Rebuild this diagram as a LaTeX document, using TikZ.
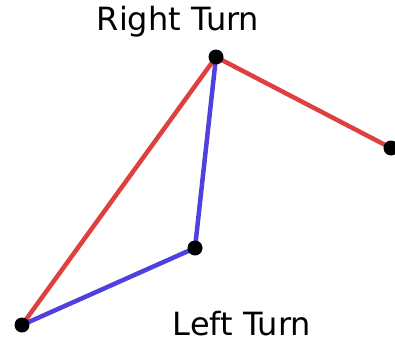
\documentclass[tikz,border=0pt]{standalone}
\usepackage{fontspec}
\setmainfont{DejaVu Sans}
\definecolor{Turnred}{RGB}{222,64,64}
\definecolor{Turnblue}{RGB}{80,64,222}
\usetikzlibrary{positioning}

\begin{document}
\begin{tikzpicture}[
  x=1pt, y=-1pt,
  pt/.style={circle, fill=black, inner sep=0pt, minimum size=15pt},
  redseg/.style={Turnred, line width=4.5pt},
  blueseg/.style={Turnblue, line width=4.5pt},
  lbl/.style={font=\fontsize{32}{36}\selectfont, inner sep=0pt}
]
\useasboundingbox (0,0) rectangle (395,345);

%% ── Puntos ────────────────────────────────────────────────────────────────
\coordinate (a) at (22,325);
\coordinate (b) at (195,248);
\coordinate (c) at (216,57);
\coordinate (d) at (391,148);

%% ── Segmentos ─────────────────────────────────────────────────────────────
\draw[redseg]  (a) -- (c) -- (d);
\draw[blueseg] (a) -- (b) -- (c);

\node[pt] (pa) at (a) {};
\node[pt] (pb) at (b) {};
\node[pt] (pc) at (c) {};
\node[pt] (pd) at (d) {};

%% ── Etiquetas ─────────────────────────────────────────────────────────────
\node[lbl] (right) at (178,22) {Right Turn};
\node[lbl] (left)  at (242,324) {Left Turn};

\end{tikzpicture}
\end{document}
